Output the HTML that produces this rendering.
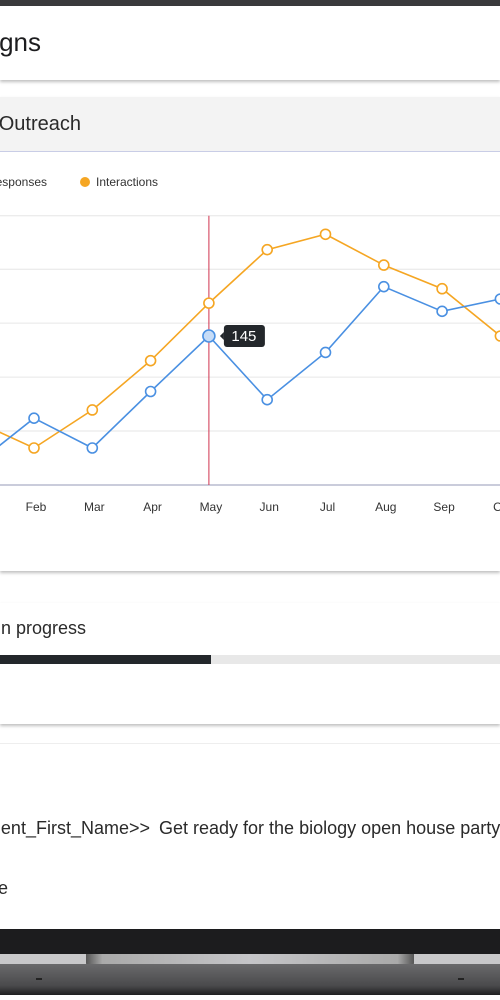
<!DOCTYPE html>
<html><head><meta charset="utf-8"><style>
html,body{margin:0;width:500px;height:1000px;overflow:hidden}
body{background:#fff;font-family:"Liberation Sans",sans-serif;color:#222}
#wrap{position:relative;width:500px;height:1000px;overflow:hidden}
.a{position:absolute}
.r{position:absolute;white-space:nowrap;text-align:right}
.card{position:absolute;left:0;width:500px;background:#fff;box-shadow:0 2px 3px rgba(0,0,0,.25)}
</style></head><body><div id="wrap">
<div class="a" style="left:0;top:0;width:500px;height:6px;background:#3a3a3c"></div>
<div class="card" style="top:6px;height:74px"></div>
<div class="r" style="right:459px;top:27px;font-size:26px;color:#1d1d1f">Campaigns</div>

<div class="card" style="top:97px;height:474px"></div>
<div class="a" style="left:0;top:97px;width:500px;height:54px;background:#f3f3f3;border-bottom:1px solid #c9cde6"></div>
<div class="r" style="right:419px;top:113px;font-size:20px;color:#2a2a2a">Outreach</div>
<div class="r" style="right:453px;top:175px;font-size:12px;color:#333"><span style="display:inline-block;width:10px;height:10px;border-radius:50%;background:#4a90e2;margin-right:6px"></span>Responses</div>
<div class="a" style="left:80px;top:175px;font-size:12px;color:#333;white-space:nowrap"><span style="display:inline-block;width:10px;height:10px;border-radius:50%;background:#f5a623;margin-right:6px;vertical-align:-1px"></span>Interactions</div>
<svg id="chart" class="a" style="left:0;top:200px" width="500" height="330"></svg>

<div class="card" style="top:603px;height:121px"></div>
<div class="r" style="right:414px;top:618px;font-size:18px;color:#2a2a2a">In progress</div>
<div class="a" style="left:0;top:655px;width:500px;height:9px;background:#e8e8e8"></div>
<div class="a" style="left:0;top:655px;width:211px;height:9px;background:#23272b"></div>

<div class="card" style="top:743px;height:190px;box-shadow:none;border-top:1px solid #eee"></div>
<div class="r" style="right:350px;top:818px;font-size:18px;color:#2a2a2a">Hi &lt;&lt;Student_First_Name&gt;&gt;</div>
<div class="a" style="left:159px;top:818px;font-size:18px;color:#2a2a2a;white-space:nowrap">Get ready for the biology open house party!</div>
<div class="r" style="right:492px;top:878px;font-size:18px;color:#2a2a2a">Message</div>

<div class="a" style="left:0;top:929px;width:500px;height:25px;background:#1c1c1e"></div>
<div class="a" style="left:0;top:954px;width:500px;height:10px;background:#c8c8ca"></div>
<div class="a" style="left:86px;top:954px;width:328px;height:13px;background:linear-gradient(90deg,#555,#aaa 5%,#c5c5c8 50%,#aaa 95%,#555);border-radius:0 0 4px 4px"></div>
<div class="a" style="left:0;top:964px;width:500px;height:31px;background:linear-gradient(#6a6a6c,#4a4a4c 70%,#1f1f20)"></div>
<div class="a" style="left:36px;top:978px;width:6px;height:2px;background:#222"></div>
<div class="a" style="left:458px;top:978px;width:6px;height:2px;background:#222"></div>
</div>
<script>
const months=["Jan","Feb","Mar","Apr","May","Jun","Jul","Aug","Sep","Oct"];
const responses=[20,65,36,91,145,83,129,193,169,181];
const interactions=[62,36,73,121,177,229,244,214,191,145];
const gridValues=[0,52.5,105,157.5,210,262];
const highlightIndex=4;
const svg=document.getElementById('chart');
const NS='http://www.w3.org/2000/svg';
const oy=200;
const x=i=>34+(i-1)*58.3;
const y=v=>485-oy-v*1.0276;
function mk(t,a){const e=document.createElementNS(NS,t);for(const k in a)e.setAttribute(k,a[k]);svg.appendChild(e);return e;}
gridValues.forEach((g,i)=>{const l=mk('line',{x1:0,x2:500,y1:y(g),y2:y(g),stroke:i==0?'#b8bccf':'#e6e6e6','stroke-width':i==0?1.5:1});

});
const cx=mk('line',{x1:x(highlightIndex),x2:x(highlightIndex),y1:y(262),y2:y(0),stroke:'#d0344f','stroke-width':1});


months.forEach((m,i)=>{const t=mk('text',{x:x(i)+2,y:311,'font-size':12,'text-anchor':'middle',fill:'#333','font-family':'Liberation Sans, sans-serif'});t.textContent=m;

});
function series(vals,col,name){
const p=mk('polyline',{points:vals.map((v,i)=>x(i)+','+y(v)).join(' '),fill:'none',stroke:col,'stroke-width':1.6});


vals.forEach((v,i)=>{const hi=name=='responses'&&i==highlightIndex;
const c=mk('circle',{cx:x(i),cy:y(v),r:hi?6:5,fill:hi?'#c6dcf7':'#fff',stroke:col,'stroke-width':1.6});

});}
series(interactions,'#f5a623','interactions');
series(responses,'#4a90e2','responses');
const tx=x(highlightIndex)+15,ty=y(responses[highlightIndex]);
const tb=mk('rect',{x:tx,y:ty-11,width:41,height:22,rx:3,fill:'#23272b'});


mk('polygon',{points:`${tx-4},${ty} ${tx},${ty-4} ${tx},${ty+4}`,fill:'#23272b'});
const tt=mk('text',{x:tx+20,y:ty+5,'font-size':15,'text-anchor':'middle',fill:'#fff','font-family':'Liberation Sans, sans-serif'});
tt.textContent=responses[highlightIndex];


</script>
</body></html>
